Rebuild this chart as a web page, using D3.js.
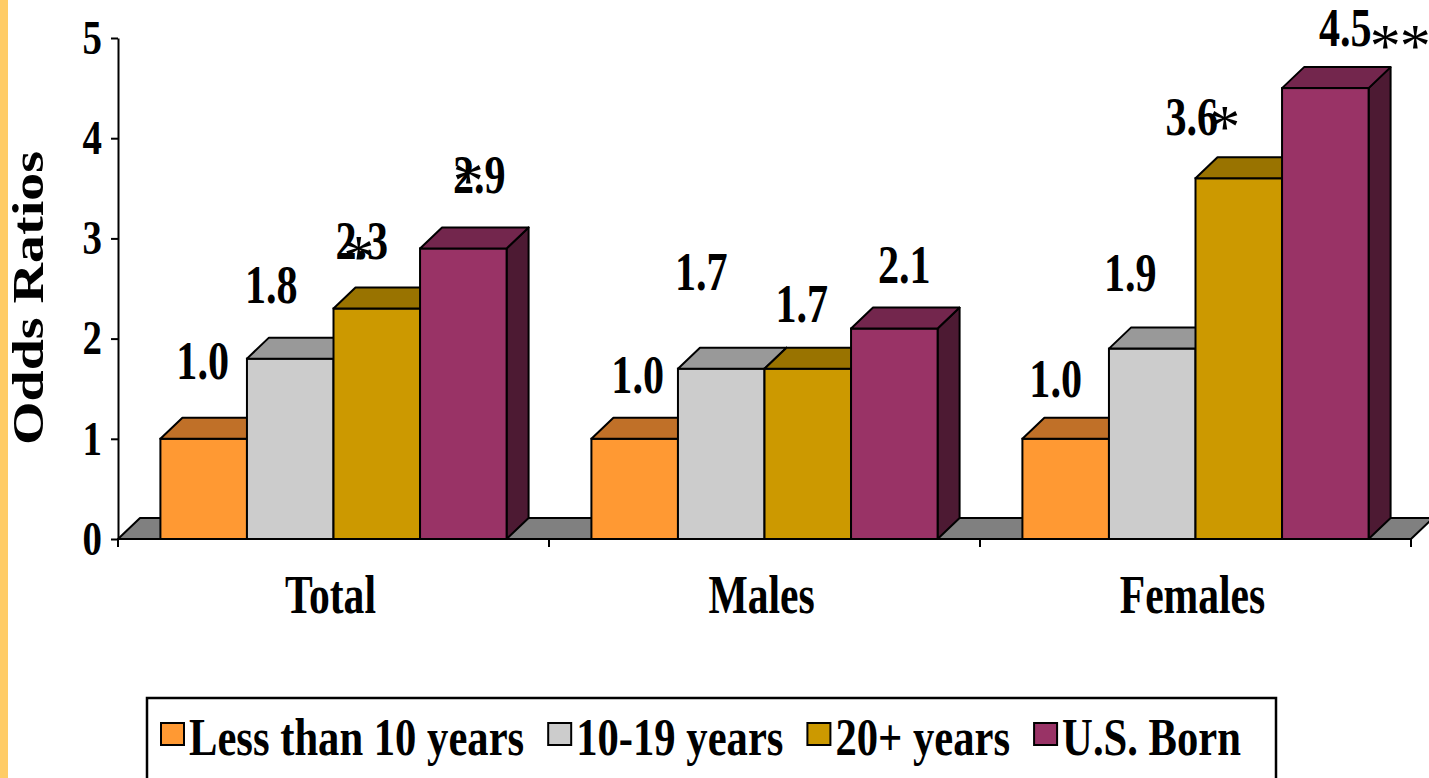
<!DOCTYPE html>
<html>
<head>
<meta charset="utf-8">
<script src="https://cdn.jsdelivr.net/npm/d3@7"></script>
<style>
  html, body { margin: 0; padding: 0; background: #ffffff; }
  svg { display: block; }
  text { font-family: "Liberation Serif", "Times New Roman", serif; fill: #000; }
</style>
</head>
<body>
<svg id="chart" width="1429" height="778"></svg>
<script>
// ---- data ----
const groups = ["Total", "Males", "Females"];
const series = ["Less than 10 years", "10-19 years", "20+ years", "U.S. Born"];
const totalValues = [1.0, 1.8, 2.3, 2.9];
const maleValues = [1.0, 1.7, 1.7, 2.1];
const femaleValues = [1.0, 1.9, 3.6, 4.5];
const significance = [
  ["", "", "*", "*"],
  ["", "", "", ""],
  ["", "", "*", "**"]
];
const yTicks = [0, 1, 2, 3, 4, 5];
const yTitle = "Odds Ratios";

// ---- styling / layout ----
const frontColors = ["#FF9933", "#CCCCCC", "#CC9900", "#993366"];
const topColors   = ["#C07028", "#999999", "#997300", "#73264D"];
const sideColors  = ["#80461A", "#7A7A7A", "#665000", "#4D1A33"];
const depth = { dx: 22, dy: 21 };

// label placement: [shift from bar front centre, rise above bar top]
const labelPlacement = [
  [[-1, 60], [-19, 56], [-15, 50], [16, 55]],
  [[3, 46], [-20, 79], [-6, 47], [10, 46]],
  [[-10, 42], [-22, 58], [-47, 43], [20, 42]]
];
// asterisk placement relative to the label's centre / baseline
const starPlacement = [
  [null, null, [-3, -8], [-11, -18]],
  [null, null, null, null],
  [null, null, [33, -14], [40, -6]]
];

const valuesByGroup = [totalValues, maleValues, femaleValues];

const svg = d3.select("#chart");

// left accent stripe of the slide
svg.append("rect").attr("x", 0).attr("y", 0).attr("width", 8).attr("height", 778)
  .attr("fill", "#FFCC66");

const y = d3.scaleLinear().domain([0, 5]).range([539, 38]);
const xGroup = d3.scaleBand().domain(groups).range([118, 1411]).padding(0);
const xSeries = d3.scaleBand().domain(series).range([0, xGroup.bandwidth()])
  .paddingInner(0).paddingOuter(0.49);

const x0 = xGroup.range()[0], x1 = xGroup.range()[1];
const yBase = y(0);

// floor
svg.append("polygon")
  .attr("points", [[x0, yBase], [x1, yBase], [x1 + depth.dx, yBase - depth.dy], [x0 + depth.dx, yBase - depth.dy]].join(" "))
  .attr("fill", "#808080").attr("stroke", "#000").attr("stroke-width", 2).attr("stroke-linejoin", "round");

// bars
const barLayer = svg.append("g");
groups.forEach((g, gi) => {
  series.forEach((s, si) => {
    const v = valuesByGroup[gi][si];
    const bx = xGroup(g) + xSeries(s);
    const bw = xSeries.bandwidth();
    const by = y(v);
    const bar = barLayer.append("g");
    bar.append("polygon")
      .attr("points", [[bx + bw, by], [bx + bw + depth.dx, by - depth.dy], [bx + bw + depth.dx, yBase - depth.dy], [bx + bw, yBase]].join(" "))
      .attr("fill", sideColors[si]).attr("stroke", "#000").attr("stroke-width", 2).attr("stroke-linejoin", "round");
    bar.append("rect")
      .attr("x", bx).attr("y", by).attr("width", bw).attr("height", yBase - by)
      .attr("fill", frontColors[si]).attr("stroke", "#000").attr("stroke-width", 2);
    bar.append("polygon")
      .attr("points", [[bx, by], [bx + bw, by], [bx + bw + depth.dx, by - depth.dy], [bx + depth.dx, by - depth.dy]].join(" "))
      .attr("fill", topColors[si]).attr("stroke", "#000").attr("stroke-width", 2).attr("stroke-linejoin", "round");
  });
});

// y axis
const yAxis = svg.append("g").attr("transform", `translate(${x0},0)`)
  .call(d3.axisLeft(y).tickValues(yTicks).tickFormat(d3.format("d")).tickSize(7).tickSizeOuter(0));
yAxis.select(".domain").attr("stroke", "#000").attr("stroke-width", 2);
yAxis.selectAll(".tick line").attr("stroke", "#000").attr("stroke-width", 2);
yAxis.selectAll(".tick text")
  .attr("x", null)
  .attr("transform", "translate(-16,0) scale(0.81,1)")
  .style("font-family", '"Liberation Serif", "Times New Roman", serif')
  .style("font-size", "48px").style("font-weight", "bold").attr("fill", "#000");

// x axis line with boundary ticks
svg.append("line").attr("x1", x0).attr("x2", x1).attr("y1", yBase).attr("y2", yBase)
  .attr("stroke", "#000").attr("stroke-width", 2);
const boundaries = groups.map(g => xGroup(g)).concat([x1]);
svg.selectAll("line.xtick").data(boundaries).enter().append("line")
  .attr("class", "xtick")
  .attr("x1", d => d).attr("x2", d => d).attr("y1", yBase).attr("y2", yBase + 8)
  .attr("stroke", "#000").attr("stroke-width", 2);

// category labels
svg.selectAll("g.cat").data(groups).enter().append("g")
  .attr("class", "cat")
  .attr("transform", d => `translate(${xGroup(d) + xGroup.bandwidth() / 2 - 3},613) scale(0.77,1)`)
  .append("text")
  .attr("text-anchor", "middle")
  .style("font-size", "54px").style("font-weight", "bold")
  .text(d => d);

// y title
svg.append("g")
  .attr("transform", "translate(43,298) rotate(-90) scale(1,0.78)")
  .append("text").attr("text-anchor", "middle")
  .style("font-size", "56px").style("font-weight", "bold")
  .text(yTitle);

// value labels and significance marks
const labelLayer = svg.append("g");
groups.forEach((g, gi) => {
  series.forEach((s, si) => {
    const v = valuesByGroup[gi][si];
    const [dx, rise] = labelPlacement[gi][si];
    const cx = xGroup(g) + xSeries(s) + xSeries.bandwidth() / 2 + dx;
    const base = y(v) - rise;
    labelLayer.append("g")
      .attr("transform", `translate(${cx},${base}) scale(0.78,1)`)
      .append("text").attr("text-anchor", "middle")
      .style("font-size", "54px").style("font-weight", "bold")
      .text(d3.format(".1f")(v));
    const stars = significance[gi][si];
    const sp = starPlacement[gi][si];
    if (stars && sp) {
      stars.split("").forEach((ch, k) => {
        labelLayer.append("text")
          .attr("x", cx + sp[0] + k * 30)
          .attr("y", base + sp[1] + 26)
          .attr("text-anchor", "middle")
          .style("font-size", "62px")
          .text(ch);
      });
    }
  });
});

// legend
const legend = svg.append("g");
legend.append("rect").attr("x", 147).attr("y", 698).attr("width", 1129).attr("height", 110)
  .attr("fill", "#fff").attr("stroke", "#000").attr("stroke-width", 2.5);
let lx = 161;
const legendSx = 0.82;
series.forEach((s, si) => {
  legend.append("rect").attr("x", lx).attr("y", 723).attr("width", 23).attr("height", 22)
    .attr("fill", frontColors[si]).attr("stroke", "#000").attr("stroke-width", 2);
  const tg = legend.append("g").attr("transform", `translate(${lx + 28},755) scale(${legendSx},1)`);
  const t = tg.append("text").style("font-size", "52px").style("font-weight", "bold").text(s);
  const w = t.node().getComputedTextLength() * legendSx;
  lx += 28 + w + 24;
});
</script>
</body>
</html>
